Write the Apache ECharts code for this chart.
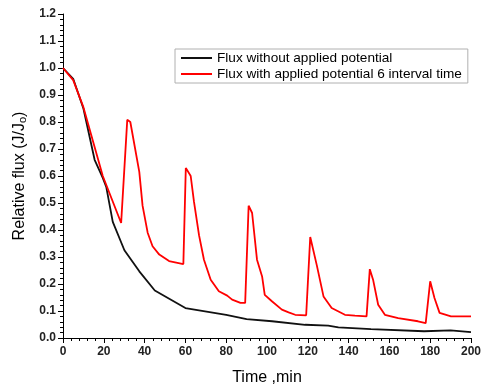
<!DOCTYPE html>
<html><head><meta charset="utf-8">
<script src="https://cdn.jsdelivr.net/npm/echarts@6/dist/echarts.min.js"></script>
<style>html,body{margin:0;padding:0;background:#fff}#c{width:484px;height:392px}</style>
</head><body><div id="c"></div>
<script>
const timeBlack = [0, 5, 10, 15.5, 19.5, 21.2, 24.4, 30.1, 37.4, 45, 60, 80, 90, 102.5, 118.7, 130, 135, 151, 177, 190, 200];
const fluxBlack = [1.0, 0.96, 0.85, 0.66, 0.593, 0.56, 0.43, 0.325, 0.247, 0.176, 0.111, 0.086, 0.07, 0.062, 0.049, 0.046, 0.039, 0.033, 0.025, 0.028, 0.022];
const timeRed = [0, 5, 10, 19.5, 28.5, 31.5, 33, 37.4, 39, 41.5, 43.9, 47.2, 52, 59, 60.2, 61, 62.6, 64.2, 66.7, 69.1, 72.4, 76.4, 80.5, 82.9, 87, 89.3, 91, 92.7, 95.1, 97.6, 98.9, 102.4, 107.3, 110.6, 113.8, 119.2, 121.2, 124.4, 127.7, 131.7, 138.2, 143.1, 148.8, 150.4, 152, 154.5, 157.8, 164.3, 174, 177.8, 180, 182.1, 184.6, 190.2, 200];
const fluxRed = [1.0, 0.955, 0.855, 0.6, 0.426, 0.808, 0.8, 0.615, 0.49, 0.39, 0.34, 0.309, 0.285, 0.274, 0.63, 0.636, 0.6, 0.505, 0.38, 0.29, 0.216, 0.173, 0.157, 0.142, 0.13, 0.13, 0.49, 0.463, 0.29, 0.228, 0.16, 0.136, 0.105, 0.095, 0.086, 0.084, 0.374, 0.27, 0.154, 0.111, 0.086, 0.083, 0.08, 0.255, 0.216, 0.123, 0.086, 0.074, 0.062, 0.055, 0.21, 0.148, 0.093, 0.08, 0.08];
const seriesNames = ['Flux without applied potential', 'Flux with applied potential 6 interval time'];
const xTitle = 'Time ,min';

const FONT = 'Liberation Sans, Arial, sans-serif';
const zip = (a, b) => a.map((t, i) => [t, b[i]]);
const chart = echarts.init(document.getElementById('c'), null, {renderer: 'canvas'});
const axisCommon = {
  axisLine: {show: true, lineStyle: {color: '#000', width: 1}},
  axisTick: {show: true, inside: false, length: 5, lineStyle: {color: '#000'}},
  minorTick: {show: true, splitNumber: 5, length: 3, lineStyle: {color: '#000'}},
  splitLine: {show: false},
  axisLabel: {color: '#222', fontWeight: 'bold', fontSize: 12, fontFamily: FONT}
};
chart.setOption({
  animation: false,
  backgroundColor: '#fff',
  grid: {left: 63, right: 11, top: 14, bottom: 54, containLabel: false},
  legend: {
    orient: 'vertical', left: 175, top: 49,
    padding: [1, 6, 1, 6], itemGap: 0,
    borderColor: '#b0b0b0', borderWidth: 1,
    itemWidth: 31, itemHeight: 2, icon: 'rect',
    textStyle: {fontSize: 13.6, fontFamily: FONT, color: '#000', lineHeight: 16},
    data: seriesNames
  },
  xAxis: Object.assign({}, axisCommon, {
    type: 'value', min: 0, max: 200, interval: 20,
    name: xTitle, nameLocation: 'middle', nameGap: 32,
    nameTextStyle: {fontSize: 16, fontFamily: FONT, color: '#000'}
  }),
  yAxis: Object.assign({}, axisCommon, {
    type: 'value', min: 0, max: 1.2, interval: 0.1,
    axisLabel: Object.assign({}, axisCommon.axisLabel, {formatter: v => v.toFixed(1), margin: 7}),
    name: 'Relative flux (J/J{s|o})', nameLocation: 'middle', nameGap: 34,
    nameTextStyle: {fontSize: 16, fontFamily: FONT, color: '#000',
      rich: {s: {fontSize: 11, fontFamily: FONT, color: '#000', verticalAlign: 'bottom', padding: [7, 0, 0, 0]}}}
  }),
  series: [
    {name: seriesNames[0], type: 'line', data: zip(timeBlack, fluxBlack), showSymbol: false,
     lineStyle: {color: '#111', width: 1.8}, itemStyle: {color: '#111'}},
    {name: seriesNames[1], type: 'line', data: zip(timeRed, fluxRed), showSymbol: false,
     lineStyle: {color: '#ff0000', width: 1.8}, itemStyle: {color: '#ff0000'}}
  ]
});
</script></body></html>
